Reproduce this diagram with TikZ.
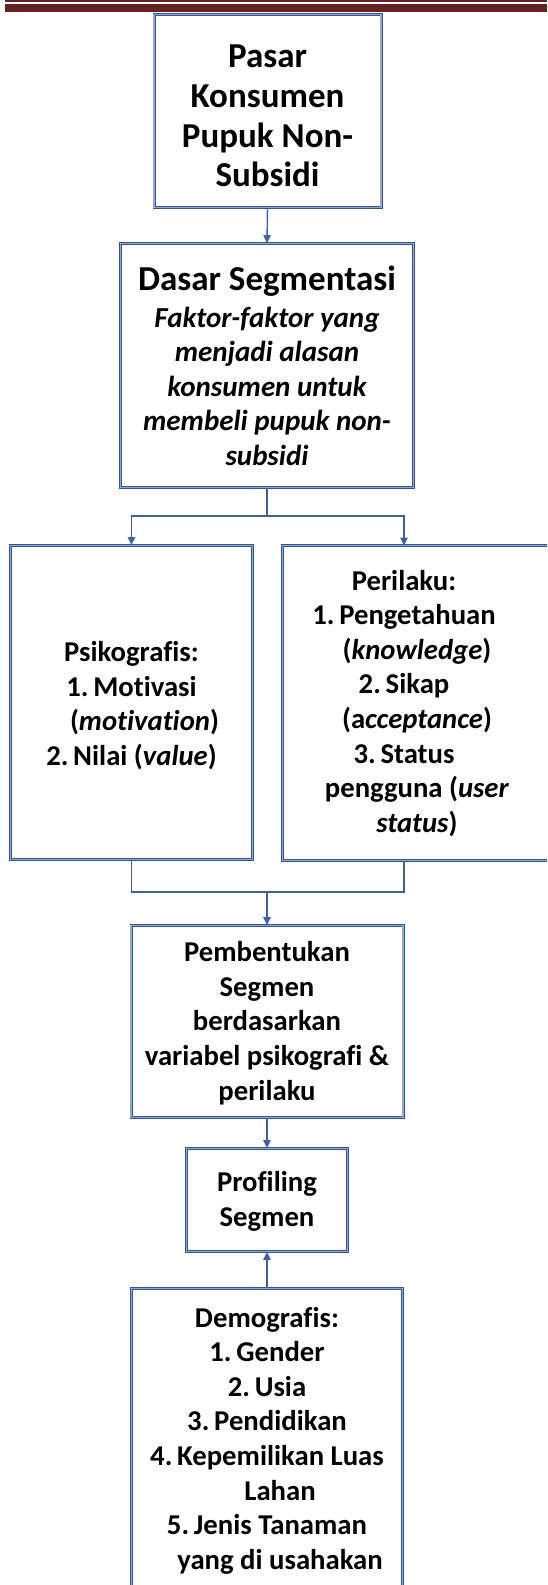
\documentclass[tikz,border=0pt]{standalone}
\usepackage{fontspec}
\setmainfont{Carlito}[Ligatures=NoCommon]
\usetikzlibrary{arrows.meta}
\definecolor{hdr}{RGB}{99,36,35}
\definecolor{bord}{RGB}{52,82,150}
\definecolor{bordin}{RGB}{150,168,206}
\definecolor{lnk}{RGB}{62,96,164}
\newcommand\mylines[1]{\begin{tabular}[t]{@{}c@{}}#1\end{tabular}}
\newcommand\num[1]{\makebox[27pt][l]{#1}}
\tikzset{
  boxst/.style={draw=bord, double=bordin, line width=0.9pt, double distance=1.2pt, inner sep=0pt},
  txt/.style={inner sep=0pt, anchor=base},
  fbig/.style={font=\bfseries\fontsize{35}{39.7}\selectfont},
  fmid/.style={font=\bfseries\fontsize{28.7}{34.6}\selectfont},
  fita/.style={font=\bfseries\itshape\fontsize{29}{34.6}\selectfont},
  link/.style={draw=lnk, line width=1.4pt},
  arr/.style={link, -{Triangle[length=8pt,width=7.5pt]}},
}
\begin{document}
\begin{tikzpicture}[x=1pt,y=-1pt]
\useasboundingbox (0,0) rectangle (547,1585);
\clip (0,0) rectangle (547,1585);
% header rule
\fill[hdr] (5,0) rectangle (547,1.8);
\fill[hdr] (5,3.6) rectangle (547,11.6);
% boxes
\node[boxst, minimum width=227pt, minimum height=193pt] (b1) at (267.5,111) {};
\node[boxst, minimum width=293pt, minimum height=244pt] (b2) at (267,365.5) {};
\node[boxst, minimum width=242pt, minimum height=314pt] (b3) at (131.5,702.5) {};
\node[boxst, minimum width=286pt, minimum height=315pt] (b4) at (425.5,703) {};
\node[boxst, minimum width=272pt, minimum height=192pt] (b5) at (267,1021.5) {};
\node[boxst, minimum width=161pt, minimum height=103pt] (b6) at (267,1200) {};
\node[boxst, minimum width=271pt, minimum height=363pt] (b7) at (267,1470) {};
% texts
\node[txt, fbig] (t1) at (267.5,67.7) {\mylines{Pasar\\Konsumen\\Pupuk Non-\\Subsidi}};
\node[txt, fbig] (t2a) at (267,290) {Dasar Segmentasi};
\node[txt, fita] (t2b) at (267,327) {\mylines{Faktor-faktor yang\\menjadi alasan\\konsumen untuk\\membeli pupuk non-\\subsidi}};
\node[txt, fmid] (t3) at (131.5,661.7) {\mylines{Psikografis:\\
\num{1.}Motivasi\\
\hspace*{26pt}(\textit{motivation})\\
\num{2.}Nilai (\textit{value})}};
\node[txt, fmid] (t4) at (404,590) {\mylines{Perilaku:\\
\num{1.}Pengetahuan\\
\hspace*{26pt}(\textit{knowledge})\\
\num{2.}Sikap\\
\hspace*{26pt}(a\textit{cceptance})\\
\num{3.}Status\\
\hspace*{26pt}pengguna (\textit{user}\\
\hspace*{26pt}\textit{status})}};
\node[txt, fmid] (t5) at (267,961.7) {\mylines{Pembentukan\\Segmen\\berdasarkan\\variabel psikografi \&\\perilaku}};
\node[txt, fmid] (t6) at (267,1191.7) {\mylines{Profiling\\Segmen}};
\node[txt, fmid] (t7) at (267,1327) {\mylines{Demografis:\\
\num{1.}Gender\\
\num{2.}Usia\\
\num{3.}Pendidikan\\
\num{4.}Kepemilikan Luas\\
\hspace*{26pt}Lahan\\
\num{5.}Jenis Tanaman\\
\hspace*{26pt}yang di usahakan}};
% connectors
\coordinate (j1) at (267,516);
\coordinate (b4in) at (404,545.5);
\coordinate (b4out) at (404,860.5);
\coordinate (j2) at (267,892);
\draw[arr] (b1.south) -- (b2.north);
\draw[link] (b2.south) -- (j1);
\draw[arr] (j1) -| (b3.north);
\draw[arr] (j1) -| (b4in);
\draw[link] (b3.south) |- (j2);
\draw[link] (b4out) |- (j2);
\draw[arr] (j2) -- (b5.north);
\draw[arr] (b5.south) -- (b6.north);
\draw[arr] (b7.north) -- (b6.south);
\end{tikzpicture}
\end{document}
